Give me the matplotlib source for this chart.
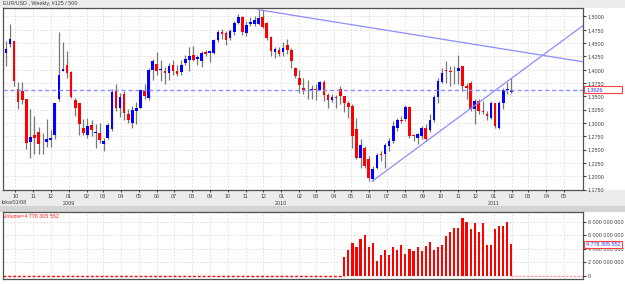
import numpy as np
import pandas as pd
import matplotlib
matplotlib.use("Agg")
import matplotlib.pyplot as plt
import matplotlib.dates as mdates
from matplotlib.patches import Rectangle

plt.rcParams['font.family'] = ['Liberation Sans', 'DejaVu Sans']
plt.rcParams['font.size'] = 3.9

# weekly EUR/USD candles
first_week = "2008-09-14"
opens = [1.4317, 1.4485, 1.4535, 1.3643, 1.3599, 1.3443, 1.2644, 1.2782, 1.2831, 1.2530,
         1.2650, 1.2675, 1.2769, 1.3443, 1.3986, 1.4098, 1.3955, 1.3430, 1.3368, 1.2900,
         1.2769, 1.2962, 1.2806, 1.2806, 1.2601, 1.2725, 1.2881, 1.3630, 1.3287, 1.3549,
         1.3162, 1.3006, 1.3225, 1.3287, 1.3630, 1.3462, 1.4004, 1.4111, 1.3992, 1.3986,
         1.3942, 1.4086, 1.3973, 1.3961, 1.4130, 1.4180, 1.4286, 1.4211, 1.4173, 1.4329,
         1.4317, 1.4317, 1.4566, 1.4704, 1.4691, 1.4597, 1.4710, 1.4878, 1.4991, 1.4691,
         1.4866, 1.4860, 1.4860, 1.4984, 1.4878, 1.4610, 1.4335, 1.4379, 1.4329, 1.4460,
         1.4379, 1.4036, 1.3849, 1.3661, 1.3630, 1.3612, 1.3640, 1.3628, 1.3780, 1.3530,
         1.3424, 1.3490, 1.3640, 1.3500, 1.3380, 1.3318, 1.2881, 1.2351, 1.2525, 1.2320,
         1.1960, 1.2150, 1.2424, 1.2413, 1.2570, 1.2663, 1.2900, 1.3050, 1.3069, 1.3300,
         1.2770, 1.2713, 1.2757, 1.2900, 1.2863, 1.3050, 1.3487, 1.3774, 1.3992, 1.3973,
         1.3967, 1.3973, 1.4067, 1.3693, 1.3755, 1.3256, 1.3412, 1.3225, 1.3162, 1.3100,
         1.3381, 1.2913, 1.3381, 1.3630, 1.3586]
highs = [1.4535, 1.4860, 1.4545, 1.3774, 1.3774, 1.3455, 1.3256, 1.3131, 1.2931, 1.2819,
         1.3081, 1.2862, 1.3380, 1.4710, 1.4523, 1.4360, 1.3986, 1.3462, 1.3380, 1.3069,
         1.3087, 1.3056, 1.2975, 1.3006, 1.2725, 1.2994, 1.3643, 1.3736, 1.3568, 1.3599,
         1.3256, 1.3312, 1.3393, 1.3643, 1.3724, 1.4036, 1.4211, 1.4335, 1.4180, 1.4048,
         1.4130, 1.4192, 1.4086, 1.4180, 1.4286, 1.4429, 1.4441, 1.4286, 1.4348, 1.4379,
         1.4360, 1.4585, 1.4745, 1.4760, 1.4722, 1.4760, 1.4910, 1.5047, 1.5000, 1.4910,
         1.4984, 1.5003, 1.5128, 1.5120, 1.4891, 1.4630, 1.4420, 1.4420, 1.4520, 1.4570,
         1.4410, 1.4048, 1.4005, 1.3849, 1.3817, 1.3711, 1.3736, 1.3790, 1.3800, 1.3568,
         1.3549, 1.3530, 1.3690, 1.3505, 1.3412, 1.3350, 1.3100, 1.2694, 1.2570, 1.2382,
         1.2195, 1.2440, 1.2470, 1.2632, 1.2725, 1.3037, 1.3100, 1.3131, 1.3337, 1.3318,
         1.2788, 1.2819, 1.2944, 1.2975, 1.3162, 1.3524, 1.3848, 1.4036, 1.4161, 1.4067,
         1.4067, 1.4285, 1.4067, 1.3755, 1.3786, 1.3443, 1.3443, 1.3412, 1.3225, 1.3412,
         1.3381, 1.3412, 1.3661, 1.3774, 1.3848]
lows = [1.4070, 1.4423, 1.3693, 1.3256, 1.3349, 1.2507, 1.2339, 1.2426, 1.2413, 1.2426,
        1.2551, 1.2551, 1.2694, 1.3412, 1.3973, 1.3848, 1.3474, 1.3131, 1.2775, 1.2775,
        1.2713, 1.2757, 1.2526, 1.2619, 1.2476, 1.2694, 1.2850, 1.3225, 1.3112, 1.3050,
        1.3006, 1.2900, 1.2975, 1.3275, 1.3443, 1.3424, 1.3817, 1.3911, 1.3786, 1.3736,
        1.3817, 1.3911, 1.3880, 1.3911, 1.4098, 1.3973, 1.4161, 1.4086, 1.4048, 1.4254,
        1.4140, 1.4300, 1.4530, 1.4580, 1.4473, 1.4560, 1.4660, 1.4860, 1.4660, 1.4629,
        1.4816, 1.4816, 1.4847, 1.4785, 1.4560, 1.4254, 1.4220, 1.4250, 1.4260, 1.4300,
        1.4036, 1.3849, 1.3568, 1.3537, 1.3443, 1.3443, 1.3424, 1.3612, 1.3412, 1.3287,
        1.3399, 1.3287, 1.3350, 1.3212, 1.3100, 1.2538, 1.2320, 1.2160, 1.2150, 1.1914,
        1.1910, 1.2130, 1.2290, 1.2164, 1.2476, 1.2632, 1.2850, 1.3006, 1.3037, 1.2725,
        1.2660, 1.2600, 1.2694, 1.2663, 1.2838, 1.3025, 1.3381, 1.3755, 1.3755, 1.3693,
        1.3724, 1.3724, 1.3599, 1.3443, 1.3225, 1.2975, 1.3175, 1.3162, 1.3050, 1.3069,
        1.2913, 1.2881, 1.3256, 1.3537, 1.3567]
closes = [1.4398, 1.4579, 1.3786, 1.3399, 1.3424, 1.2632, 1.2744, 1.2719, 1.2613, 1.2525,
          1.2700, 1.2725, 1.3368, 1.3911, 1.4023, 1.3936, 1.3487, 1.3275, 1.2975, 1.2819,
          1.2944, 1.2863, 1.2831, 1.2682, 1.2663, 1.2956, 1.3587, 1.3287, 1.3487, 1.3193,
          1.3050, 1.3250, 1.3287, 1.3630, 1.3505, 1.3992, 1.4161, 1.3973, 1.4017, 1.3936,
          1.4067, 1.3973, 1.3930, 1.4098, 1.4211, 1.4255, 1.4192, 1.4236, 1.4317, 1.4304,
          1.4348, 1.4566, 1.4710, 1.4679, 1.4566, 1.4735, 1.4878, 1.4991, 1.4710, 1.4835,
          1.4891, 1.4941, 1.4972, 1.4797, 1.4597, 1.4348, 1.4398, 1.4304, 1.4410, 1.4379,
          1.4161, 1.3880, 1.3711, 1.3630, 1.3612, 1.3637, 1.3628, 1.3780, 1.3530, 1.3424,
          1.3490, 1.3480, 1.3500, 1.3380, 1.3300, 1.2757, 1.2351, 1.2588, 1.2195, 1.1977,
          1.2133, 1.2400, 1.2408, 1.2588, 1.2663, 1.2944, 1.3050, 1.3037, 1.3300, 1.2757,
          1.2757, 1.2788, 1.2900, 1.2694, 1.3050, 1.3487, 1.3799, 1.3942, 1.3986, 1.3955,
          1.3955, 1.4036, 1.3693, 1.3661, 1.3256, 1.3412, 1.3225, 1.3212, 1.3131, 1.3381,
          1.2944, 1.3381, 1.3630, 1.3635, 1.3626]

# tick volume exists only for the last 42 weeks
vol_start = 83
volumes = [2.7, 3.8, 4.8, 4.2, 5.5, 6.1, 4.3, 4.8, 2.1, 3.0,
           3.8, 3.1, 4.2, 3.8, 4.6, 3.2, 4.0, 3.6, 4.2, 3.6,
           4.4, 5.0, 3.8, 4.3, 4.6, 5.9, 6.5, 7.1, 7.1, 8.6,
           8.0, 7.0, 7.9, 6.5, 7.9, 4.5, 4.6, 7.0, 7.4, 7.4,
           8.0, 4.778305552]  # billions

last_price = 1.3626
last_volume = 4778305552
trend_down = [("2009-11-22", 1.5128), ("2011-06-03", 1.4150)]
trend_up = [("2010-06-06", 1.1910), ("2011-06-03", 1.4830)]
price_ticks = np.arange(1.175, 1.5001, 0.025)
vol_ticks = [0, 2e9, 4e9, 6e9, 8e9]

W, H = 625, 284
fig = plt.figure(figsize=(W / 100, H / 100), dpi=100, facecolor="white")

def fx(px):
    return px / W

def fy(py):
    return 1 - py / H

# grey bands: title strip, date strip, panel separator (behind the axes)
for top, hgt, col in ((0, 8, "#ececec"), (190, 16, "#ececec"), (206, 6, "#d4d4d4")):
    fig.patches.append(Rectangle((0, fy(top + hgt)), 1, hgt / H, transform=fig.transFigure,
                                 fc=col, ec="none", zorder=-5))

ax = fig.add_axes([fx(3), fy(190), fx(580), 182 / H])
axv = fig.add_axes([fx(3), fy(279), fx(580), 67 / H])
ax.set_facecolor("white")
axv.set_facecolor("white")

dates = pd.date_range(first_week, periods=len(opens), freq="7D")
x = mdates.date2num(dates) + 1
o = np.array(opens); h = np.array(highs); l = np.array(lows); c = np.array(closes)
up = c >= o
cols = np.where(up, "#0000ff", "#ff0000")

ax.vlines(x, l, h, color="#787878", lw=0.9, zorder=2)
bottom = np.minimum(o, c)
height = np.maximum(np.abs(c - o), 0.0009)
ax.bar(x, height, bottom=bottom, width=4.6, color=cols, lw=0, zorder=3)

grid_col = "#e0d8d8"
ax.axhline(last_price, color="#8c8cff", lw=1, ls=(0, (3, 2)), zorder=4)
for seg in (trend_down, trend_up):
    xs = [mdates.date2num(pd.Timestamp(d)) for d, _ in seg]
    ys = [p for _, p in seg]
    ax.plot(xs, ys, color="#8c8cff", lw=0.9, zorder=4)

xmin = mdates.date2num(pd.Timestamp("2008-09-10"))
xmax = mdates.date2num(pd.Timestamp("2011-06-03"))
months = pd.date_range("2008-10-01", "2011-05-01", freq="MS")
mx = mdates.date2num(months)

for a in (ax, axv):
    a.set_xlim(xmin, xmax)
    a.set_xticks(mx)
    a.yaxis.tick_right()
    a.grid(True, color=grid_col, lw=0.6, ls=(0, (2, 2)))
    a.set_axisbelow(True)
    for s in a.spines.values():
        s.set_color("#505050")
        s.set_linewidth(0.9)
    a.tick_params(axis="y", length=2.5, pad=1, colors="#404040", labelsize=3.9)

ax.set_ylim(1.1745, 1.5159)
ax.set_yticks(price_ticks)
ax.set_yticklabels([f"{v:.4f}".replace(".", ",") for v in price_ticks])
ax.set_xticklabels([m.strftime("%m") for m in months])
ax.tick_params(axis="x", length=1.5, pad=1.2, colors="#404040", labelsize=3.9)

# year labels under January
for m in months:
    if m.month == 1:
        ax.annotate(str(m.year), xy=(mdates.date2num(m), 0), xycoords=("data", "axes fraction"),
                    xytext=(0, -9.4), textcoords="offset points", ha="center", va="center",
                    color="#404040", fontsize=3.9)
fig.text(fx(2), fy(203), "loka/01/08", ha="left", va="center", color="#404040", fontsize=3.9)
fig.text(fx(3), fy(4), "EUR/USD , Weekly, #125 / 500", ha="left", va="center",
         color="#404040", fontsize=3.9)

# current price marker
fig.patches.append(Rectangle((fx(584), fy(93)), fx(38), 7 / H, transform=fig.transFigure,
                             fc="white", ec="#ff4040", lw=0.8, zorder=5))
fig.text(fx(587), fy(89.5), f"{last_price:.4f}".replace(".", ","), ha="left", va="center",
         color="#3030ff", fontsize=3.9, zorder=6)

# volume panel
vx = x[vol_start:vol_start + len(volumes)]
axv.bar(vx, np.array(volumes) * 1e9, width=3.8, color="#ff0000", lw=0, zorder=3)
axv.plot([xmin, x[vol_start]], [0, 0], color="#ff0000", lw=1, ls=(0, (2, 1.5)), zorder=2)
axv.plot([x[-1], xmax], [0, 0], color="#ff9090", lw=0.8, ls=(0, (2, 1.5)), zorder=2)
axv.set_ylim(-0.52e9, 9.49e9)
axv.set_yticks(vol_ticks)
axv.set_yticklabels([f"{int(v):,}".replace(",", " ") for v in vol_ticks])
axv.tick_params(axis="x", length=0, labelbottom=False)
axv.text(0.0, 0.97, "Volume=" + f"{last_volume:,}".replace(",", " "), transform=axv.transAxes,
         ha="left", va="top", color="#ff2020", fontsize=3.9)

vy = fy(244)
fig.patches.append(Rectangle((fx(584), vy - 3.5 / H), fx(38), 7 / H, transform=fig.transFigure,
                             fc="white", ec="#ff4040", lw=0.8, zorder=5))
fig.text(fx(586), vy, f"{last_volume:,}".replace(",", " "), ha="left", va="center",
         color="#3030ff", fontsize=3.9, zorder=6)

fig.savefig("out.png", dpi=100, facecolor=fig.get_facecolor())
